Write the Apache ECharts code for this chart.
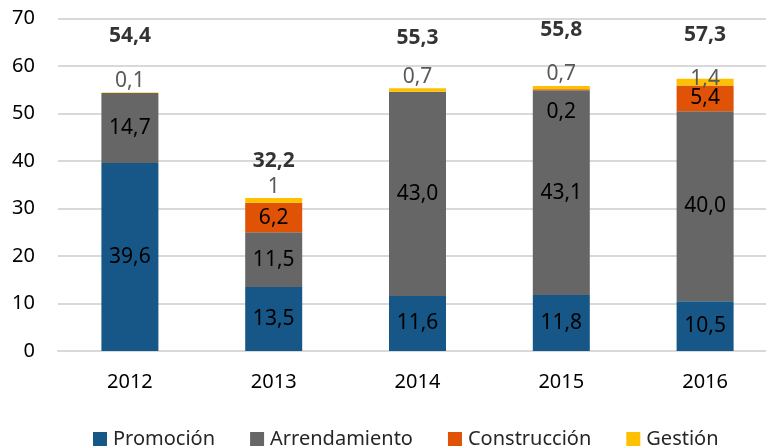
<!DOCTYPE html>
<html>
<head>
<meta charset="utf-8">
<script src="https://cdn.jsdelivr.net/npm/echarts@6/dist/echarts.min.js"></script>
<style>html,body{margin:0;padding:0;background:#fff;overflow:hidden;width:766px;height:448px}#c{width:780px;height:448px}</style>
</head>
<body>
<div id="c"></div>
<script>
const categories = ['2012', '2013', '2014', '2015', '2016'];
const promocion = [39.6, 13.5, 11.6, 11.8, 10.5];
const arrendamiento = [14.7, 11.5, 43.0, 43.1, 40.0];
const construccion = [0, 6.2, 0, 0.2, 5.4];
const gestion = [0.1, 1, 0.7, 0.7, 1.4];
const gestionDecimals = [1, 0, 1, 1, 1];
const totals = [54.4, 32.2, 55.3, 55.8, 57.3];
const yTicks = [0, 10, 20, 30, 40, 50, 60, 70];

// label placement tweaks (pixels), kept apart from the data
const totalOffsets = [[0, -57], [0, -37], [0, -50], [0, -56], [0, -44]];
const gestionOffsets = [[0, 0], [0, 0], [0, 0], [0, 0], [0, 12]];
const construccionOffsets = [[0, 0], [0, 0], [0, 0], [0, 22], [0, 0]];

const FONT = 'Noto Sans';
const fmt = (v, d) => (v === 0 ? '' : v.toFixed(d).replace('.', ','));

const insideLabel = {
  show: true, position: 'inside', color: '#000', fontFamily: FONT, fontSize: 21,
  formatter: p => fmt(p.value, 1)
};

const chart = echarts.init(document.getElementById('c'), null, { renderer: 'canvas' });
chart.setOption({
  animation: false,
  grid: { left: 58, top: 18.5, width: 719, bottom: 97, containLabel: false },
  legend: {
    data: ['Promoción', 'Arrendamiento', 'Construcción', 'Gestión'],
    left: 93, top: 429, padding: 0, itemWidth: 14, itemHeight: 14, itemGap: 35,
    icon: 'rect',
    textStyle: { fontFamily: FONT, fontSize: 20, color: '#262626', padding: [0, 0, 0, 1] }
  },
  xAxis: {
    type: 'category', data: categories,
    axisLine: { lineStyle: { color: '#d9d9d9', width: 2 } },
    axisTick: { show: false },
    axisLabel: { margin: 21, color: '#000', fontFamily: FONT, fontSize: 20 }
  },
  yAxis: {
    type: 'value', min: yTicks[0], max: yTicks[yTicks.length - 1], interval: 10,
    axisLine: { show: false }, axisTick: { show: false },
    splitLine: { lineStyle: { color: '#d9d9d9', width: 2 } },
    axisLabel: { margin: 23, color: '#000', fontFamily: FONT, fontSize: 20 }
  },
  series: [
    {
      name: 'Promoción', type: 'bar', stack: 't', barWidth: 57, data: promocion,
      itemStyle: { color: '#175787' }, label: insideLabel
    },
    {
      name: 'Arrendamiento', type: 'bar', stack: 't', data: arrendamiento,
      itemStyle: { color: '#666666' }, label: insideLabel
    },
    {
      name: 'Construcción', type: 'bar', stack: 't',
      data: construccion.map((v, i) => ({ value: v, label: { offset: construccionOffsets[i] } })),
      itemStyle: { color: '#e05206' }, label: insideLabel
    },
    {
      name: 'Gestión', type: 'bar', stack: 't',
      data: gestion.map((v, i) => ({ value: v, label: { offset: gestionOffsets[i] } })),
      itemStyle: { color: '#ffc000' },
      label: {
        show: true, position: 'top', distance: 1, color: '#595959', fontFamily: FONT, fontSize: 21,
        formatter: p => fmt(p.value, gestionDecimals[p.dataIndex])
      }
    },
    {
      name: 'Total', type: 'scatter', symbolSize: 0, silent: true,
      data: totals.map((v, i) => ({ value: v, label: { offset: totalOffsets[i] } })),
      label: {
        show: true, position: 'inside', color: '#000', fontFamily: FONT, fontSize: 21, fontWeight: 'bold',
        formatter: p => fmt(p.value, 1)
      }
    }
  ]
});
</script>
</body>
</html>
